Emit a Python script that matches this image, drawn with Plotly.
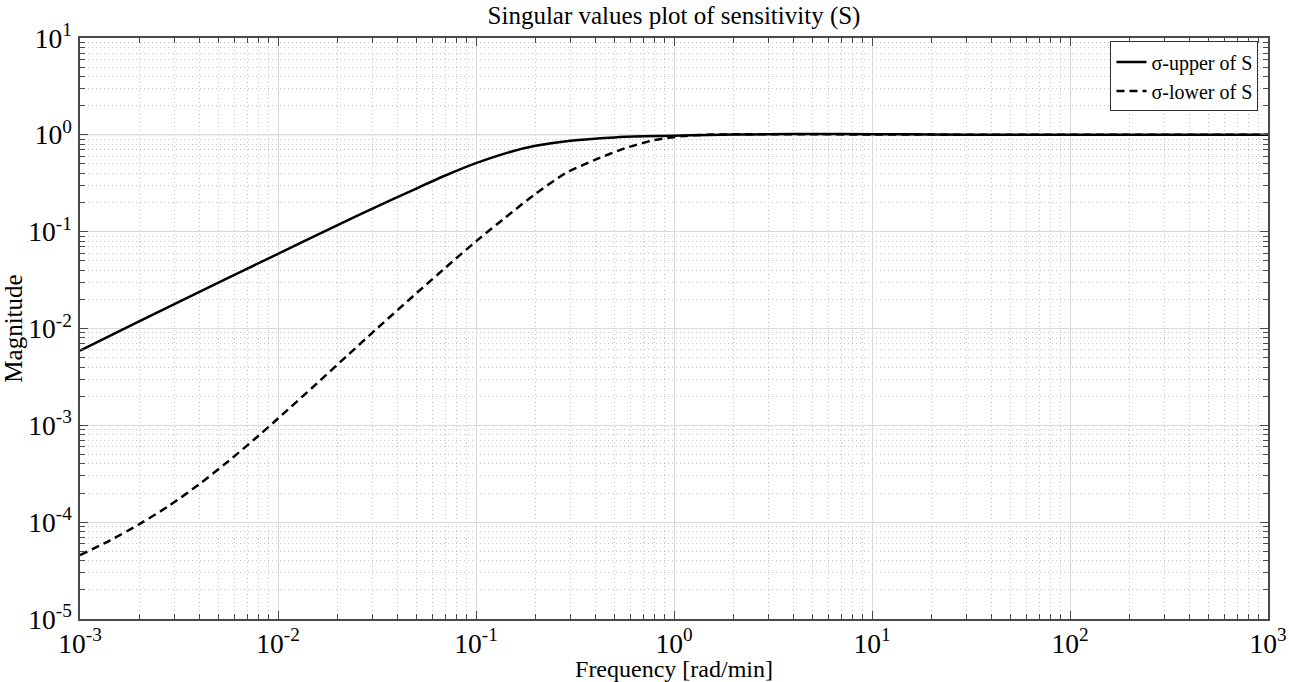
import plotly.graph_objects as go

# Frequencies [rad/min] and singular values
freq_upper = [0.001, 0.002, 0.005, 0.01, 0.02, 0.03, 0.05, 0.07, 0.1, 0.15, 0.2, 0.3,
              0.5, 0.7, 1.0, 1.5, 2.0, 3.0, 5.0, 10.0, 20.0, 50.0, 100.0, 1000.0]
sigma_upper = [0.0059, 0.0119, 0.0297, 0.059, 0.117, 0.173, 0.279, 0.38, 0.51, 0.67, 0.77, 0.87,
               0.94, 0.965, 0.98, 0.995, 1.005, 1.015, 1.02, 1.015, 1.008, 1.002, 1.0, 1.0]

freq_lower = [0.001, 0.001413, 0.001995, 0.002818, 0.003981, 0.005623, 0.007943, 0.01,
              0.01585, 0.02239, 0.03162, 0.05012, 0.07079, 0.1, 0.1413, 0.1995, 0.2818,
              0.3981, 0.5623, 0.7943, 1.122, 1.585, 3.162, 10.0, 20.0, 50.0, 1000.0]
sigma_lower = [4.57e-5, 6.46e-5, 9.55e-5, 1.48e-4, 2.45e-4, 4.27e-4, 7.76e-4, 1.175e-3,
               2.75e-3, 5.25e-3, 0.01, 0.0232, 0.0432, 0.0794, 0.141, 0.245, 0.398,
               0.550, 0.724, 0.881, 0.973, 1.005, 1.014, 1.009, 1.005, 1.0, 1.0]

# decade tick exponents (labels 10^e)
x_exponents = [-3, -2, -1, 0, 1, 2, 3]
y_exponents = [-5, -4, -3, -2, -1, 0, 1]

ref_level = 1.0

FONT = "Liberation Serif"
MINUS = "\u2212"


def alias_map(exps):
    m = {}
    for e in exps:
        target = "10<sup>" + str(e) + "</sup>"
        if e == 0:
            m["1"] = target
        elif e == 1:
            m["10"] = target
        else:
            s = str(abs(e))
            m["10<sup>" + (MINUS if e < 0 else "") + s + "</sup>"] = target
            m["10<sup>" + ("-" if e < 0 else "") + s + "</sup>"] = target
    return m


fig = go.Figure()
fig.add_hline(y=ref_level, line=dict(color="#9fe4ee", width=1), layer="below")
fig.add_trace(go.Scatter(x=freq_upper, y=sigma_upper, mode="lines", name="σ-upper of S",
                         line=dict(color="black", width=2.5, shape="spline", smoothing=0.8)))
fig.add_trace(go.Scatter(x=freq_lower, y=sigma_lower, mode="lines", name="σ-lower of S",
                         line=dict(color="black", width=2.5, dash="8px,5px",
                                   shape="spline", smoothing=0.8)))

axis_common = dict(
    type="log", tickmode="linear", tick0=0, dtick=1, exponentformat="power",
    automargin=False,
    showline=True, linecolor="#4a4a4a", linewidth=1.5, mirror="allticks",
    ticks="inside", ticklen=8, tickcolor="#4a4a4a", tickwidth=1.2,
    showgrid=True, gridcolor="#dadada", gridwidth=1,
    zeroline=False,
    tickfont=dict(family=FONT, size=22, color="black"),
    minor=dict(dtick="D1", ticks="inside", ticklen=5, tickcolor="#4a4a4a", tickwidth=1,
               showgrid=True, gridcolor="#c4c4c4", griddash="1px,3px", gridwidth=1),
)

fig.update_xaxes(range=[min(x_exponents), max(x_exponents)],
                 labelalias=alias_map(x_exponents),
                 ticklabelstandoff=0,
                 title=dict(text="Frequency [rad/min]", standoff=2,
                            font=dict(family=FONT, size=24, color="black")), **axis_common)
fig.update_yaxes(range=[min(y_exponents), max(y_exponents)],
                 labelalias=alias_map(y_exponents),
                 ticklabelstandoff=2,
                 title=dict(text="Magnitude", standoff=0,
                            font=dict(family=FONT, size=25, color="black")), **axis_common)

fig.update_layout(
    width=1289, height=682,
    margin=dict(l=80, r=21, t=38, b=63, autoexpand=False),
    paper_bgcolor="white", plot_bgcolor="white",
    title=dict(text="Singular values plot of sensitivity (S)", x=0.5, xanchor="center",
               xref="paper", y=0.978, yanchor="middle",
               font=dict(family=FONT, size=25, color="black")),
    font=dict(family=FONT, color="black"),
    legend=dict(x=0.992, y=0.994, xanchor="right", yanchor="top",
                bgcolor="white", bordercolor="#333333", borderwidth=1,
                font=dict(family=FONT, size=20, color="black"),
                tracegroupgap=0, itemwidth=30),
    showlegend=True,
)

fig.write_html("out.html")
